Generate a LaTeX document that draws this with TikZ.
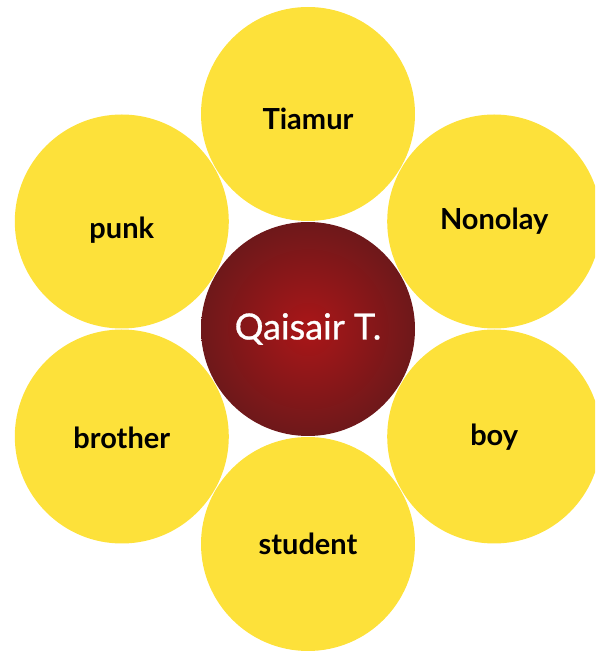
\documentclass[tikz,border=0pt]{standalone}
\usepackage{fontspec}
\setmainfont{Lato}
\newfontfamily\corefont[FakeBold=0.8]{Lato}
\usetikzlibrary{calc,positioning}

\definecolor{petalyellow}{RGB}{253,225,58}
\definecolor{coreinner}{RGB}{170,22,24}
\definecolor{coreouter}{RGB}{110,24,26}

\begin{document}
\begin{tikzpicture}[x=1pt,y=1pt,
    petal/.style={circle,fill=petalyellow,minimum size=214pt,inner sep=0pt},
    petaltext/.style={font=\bfseries\fontsize{29}{34}\selectfont},
    core/.style={circle,inner color=coreinner,outer color=coreouter,
      minimum size=214pt,inner sep=0pt,text=white,
      font=\corefont\fontsize{36}{42}\selectfont}]
    \clip (0,0) rectangle (595,651);
    % Center of the flower
    \coordinate (hub) at (308,322);

    % Petals around the hub
    \foreach \name/\ang/\txt/\dy in {tiamur/90/Tiamur/-5,nonolay/30/Nonolay/0,
        boy/-30/boy/-1,student/-90/student/0,brother/210/brother/-1,punk/150/punk/-9} {
        \node[petal] (\name) at ($(hub)+(\ang:215)$) {};
        \node[petaltext,yshift=\dy] (\name-txt) at (\name) {\txt};
    }

    % Core
    \node[core] (qaisair) at (hub) {Qaisair T.};
\end{tikzpicture}
\end{document}
